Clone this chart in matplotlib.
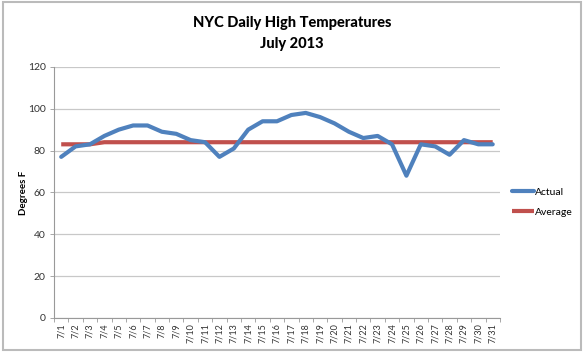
import matplotlib
matplotlib.use("Agg")
import matplotlib.pyplot as plt
from matplotlib.patches import Rectangle

plt.rcParams['font.family'] = ['Lato', 'DejaVu Sans']

# daily highs, July 2013
days = [f'7/{d}' for d in range(1, 32)]
actual = [77, 82, 83, 87, 90, 92, 92, 89, 88, 85, 84, 77, 81, 90, 94, 94,
          97, 98, 96, 93, 89, 86, 87, 83, 68, 83, 82, 78, 85, 83, 83]
average = [83, 83, 83, 84, 84, 84, 84, 84, 84, 84, 84, 84, 84, 84, 84, 84,
           84, 84, 84, 84, 84, 84, 84, 84, 84, 84, 84, 84, 84, 84, 84]
yticks = [0, 20, 40, 60, 80, 100, 120]

fig = plt.figure(figsize=(5.84, 3.52), dpi=100)
ax = fig.add_axes([0.0925, 0.0966, 0.7635, 0.7134])

x = list(range(len(days)))
ax.plot(x, actual, color='#4F81BD', lw=3, solid_capstyle='round',
        solid_joinstyle='round', label='Actual', zorder=3)
ax.plot(x, average, color='#C0504D', lw=3, solid_capstyle='butt',
        label='Average', zorder=2)

ax.set_xlim(-0.5, len(days) - 0.5)
ax.set_ylim(0, 120)
ax.set_yticks(yticks)
ax.set_yticklabels([str(v) for v in yticks], fontsize=7.5, color='#333333')
ax.set_xticks(x)
ax.set_xticklabels(days, rotation=90, fontsize=6.5, color='#333333')
ax.tick_params(axis='x', length=0, pad=4)
ax.set_xticks([i - 0.5 for i in range(len(days) + 1)], minor=True)
ax.tick_params(axis='x', which='minor', length=3, color='#999999', width=0.6)
ax.tick_params(axis='y', length=3, color='#999999', width=0.6, pad=3)

ax.grid(axis='y', color='#C8C8C8', lw=0.9)
ax.set_axisbelow(True)
for side in ['top', 'right']:
    ax.spines[side].set_visible(False)
for side in ['left', 'bottom']:
    ax.spines[side].set_color('#999999')
    ax.spines[side].set_linewidth(0.8)

ax.set_ylabel('Degrees F', fontsize=7, fontweight='bold', labelpad=0)
fig.text(0.5, 0.935, 'NYC Daily High Temperatures', ha='center', va='center',
         fontsize=10.5, fontweight='black')
fig.text(0.5, 0.876, 'July 2013', ha='center', va='center',
         fontsize=10.5, fontweight='black')

leg = ax.legend(loc='center left', bbox_to_anchor=(1.005, 0.462), frameon=False,
                fontsize=7.5, handlelength=2.2, handletextpad=0.1,
                labelspacing=1.05)

# chart border
fig.patches.append(Rectangle((0.005, 0.006), 0.99, 0.988, transform=fig.transFigure,
                             fill=False, edgecolor='#BBBBBB', lw=1.5))

fig.savefig('out.png', dpi=100)
